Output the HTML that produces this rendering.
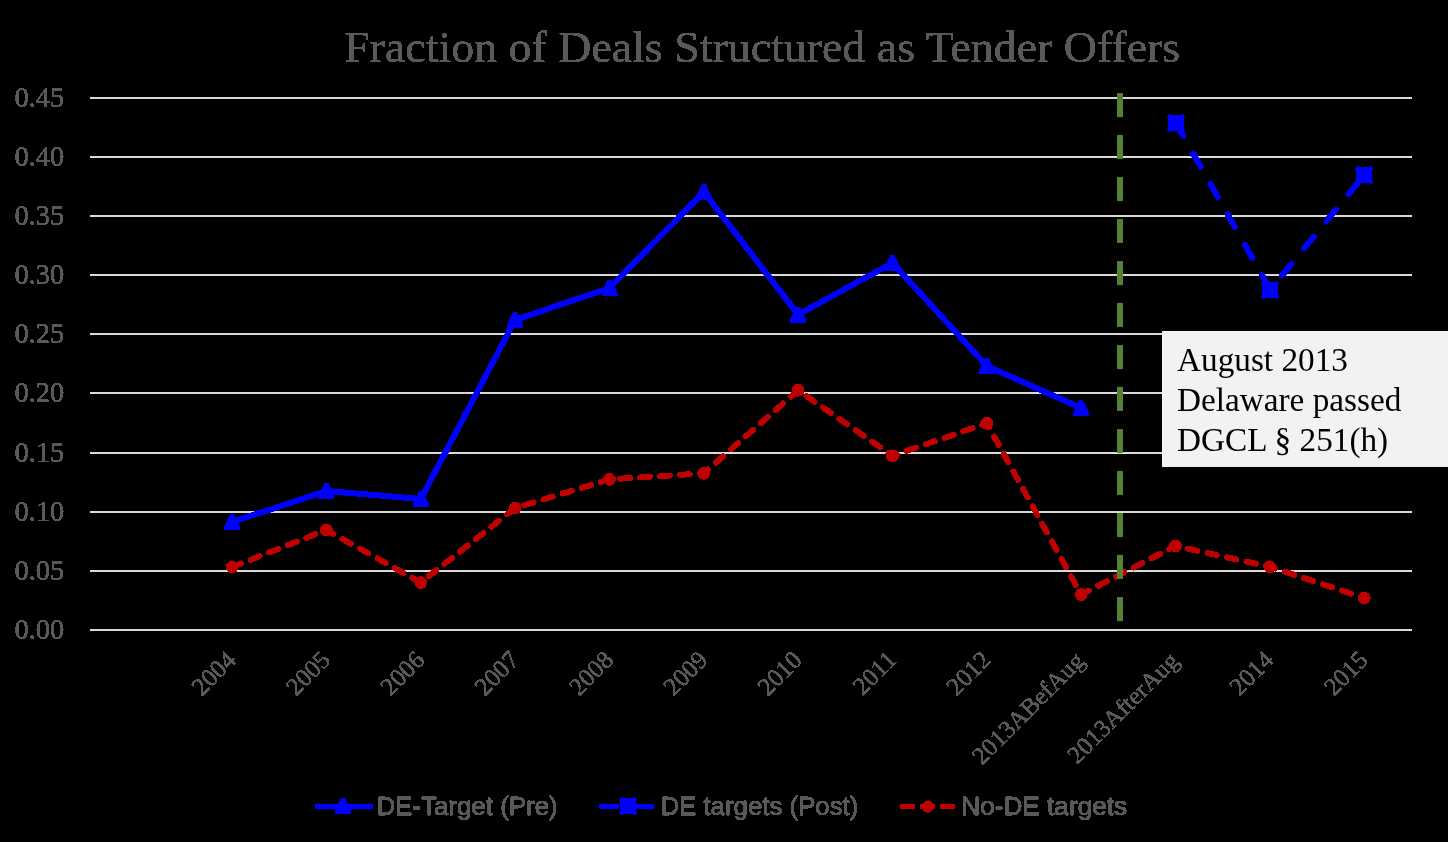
<!DOCTYPE html>
<html><head><meta charset="utf-8"><title>Fraction of Deals Structured as Tender Offers</title>
<style>html,body{margin:0;padding:0;background:#000;}body{width:1448px;height:842px;overflow:hidden;}svg{display:block;will-change:transform;}text{font-family:"Liberation Serif",serif;}.sans{font-family:"Liberation Sans",sans-serif;}</style></head><body>
<svg width="1448" height="842" viewBox="0 0 1448 842">
<defs><filter id="al" filterUnits="userSpaceOnUse" x="0" y="0" width="1448" height="842" color-interpolation-filters="sRGB"><feComponentTransfer><feFuncA type="discrete" tableValues="0 1"/></feComponentTransfer></filter></defs>
<rect width="1448" height="842" fill="#000"/>
<g shape-rendering="crispEdges" fill="#D9D9D9">
<rect x="90" y="97" width="1322" height="2"/>
<rect x="90" y="156" width="1322" height="2"/>
<rect x="90" y="215" width="1322" height="2"/>
<rect x="90" y="274" width="1322" height="2"/>
<rect x="90" y="333" width="1322" height="2"/>
<rect x="90" y="392" width="1322" height="2"/>
<rect x="90" y="452" width="1322" height="2"/>
<rect x="90" y="511" width="1322" height="2"/>
<rect x="90" y="570" width="1322" height="2"/>
<rect x="90" y="629" width="1322" height="2"/>
</g>
<g filter="url(#al)" fill="#595959" stroke="#595959" stroke-width="0.55">
<text x="344.2" y="61.5" font-size="45" stroke-width="0.5" textLength="836" lengthAdjust="spacingAndGlyphs">Fraction of Deals Structured as Tender Offers</text>
<text x="64.3" y="106.80" font-size="28.5" text-anchor="end">0.45</text>
<text x="64.3" y="165.80" font-size="28.5" text-anchor="end">0.40</text>
<text x="64.3" y="224.80" font-size="28.5" text-anchor="end">0.35</text>
<text x="64.3" y="283.80" font-size="28.5" text-anchor="end">0.30</text>
<text x="64.3" y="342.80" font-size="28.5" text-anchor="end">0.25</text>
<text x="64.3" y="401.80" font-size="28.5" text-anchor="end">0.20</text>
<text x="64.3" y="461.80" font-size="28.5" text-anchor="end">0.15</text>
<text x="64.3" y="520.80" font-size="28.5" text-anchor="end">0.10</text>
<text x="64.3" y="579.80" font-size="28.5" text-anchor="end">0.05</text>
<text x="64.3" y="638.80" font-size="28.5" text-anchor="end">0.00</text>
<text transform="translate(237.4,661.4) rotate(-45)" font-size="25.2" text-anchor="end" letter-spacing="0">2004</text>
<text transform="translate(331.7,661.4) rotate(-45)" font-size="25.2" text-anchor="end" letter-spacing="0">2005</text>
<text transform="translate(426.1,661.4) rotate(-45)" font-size="25.2" text-anchor="end" letter-spacing="0">2006</text>
<text transform="translate(520.4,661.4) rotate(-45)" font-size="25.2" text-anchor="end" letter-spacing="0">2007</text>
<text transform="translate(614.8,661.4) rotate(-45)" font-size="25.2" text-anchor="end" letter-spacing="0">2008</text>
<text transform="translate(709.1,661.4) rotate(-45)" font-size="25.2" text-anchor="end" letter-spacing="0">2009</text>
<text transform="translate(803.4,661.4) rotate(-45)" font-size="25.2" text-anchor="end" letter-spacing="0">2010</text>
<text transform="translate(897.8,661.4) rotate(-45)" font-size="25.2" text-anchor="end" letter-spacing="0">2011</text>
<text transform="translate(992.1,661.4) rotate(-45)" font-size="25.2" text-anchor="end" letter-spacing="0">2012</text>
<text transform="translate(1085.7,662.3) rotate(-45)" font-size="24.9" text-anchor="end" letter-spacing="0">2013ABefAug</text>
<text transform="translate(1180.0,662.3) rotate(-45)" font-size="24.9" text-anchor="end" letter-spacing="0">2013AfterAug</text>
<text transform="translate(1275.1,661.4) rotate(-45)" font-size="25.2" text-anchor="end" letter-spacing="0">2014</text>
<text transform="translate(1369.5,661.4) rotate(-45)" font-size="25.2" text-anchor="end" letter-spacing="0">2015</text>
<text class="sans" x="376.4" y="815" font-size="25.5" stroke-width="1.0" textLength="181.3" lengthAdjust="spacingAndGlyphs">DE-Target (Pre)</text>
<text class="sans" x="660.4" y="815" font-size="25.5" stroke-width="1.0" textLength="198" lengthAdjust="spacingAndGlyphs">DE targets (Post)</text>
<text class="sans" x="961.3" y="815" font-size="25.5" stroke-width="1.0" textLength="165.8" lengthAdjust="spacingAndGlyphs">No-DE targets</text>
</g>
<g shape-rendering="crispEdges">
<polyline fill="none" stroke="#C00000" stroke-width="6" stroke-linecap="round" stroke-linejoin="round" stroke-dasharray="9.6 10.36" points="232.1,567.0 326.4,530.0 420.8,582.6 515.1,508.0 609.5,479.4 703.8,473.3 798.1,390.3 892.5,455.8 986.8,423.2 1081.2,594.6 1175.5,546.0 1269.8,566.8 1364.2,597.9"/>
<circle cx="232.1" cy="567.0" r="6.4" fill="#C00000"/>
<circle cx="326.4" cy="530.0" r="6.4" fill="#C00000"/>
<circle cx="420.8" cy="582.6" r="6.4" fill="#C00000"/>
<circle cx="515.1" cy="508.0" r="6.4" fill="#C00000"/>
<circle cx="609.5" cy="479.4" r="6.4" fill="#C00000"/>
<circle cx="703.8" cy="473.3" r="6.4" fill="#C00000"/>
<circle cx="798.1" cy="390.3" r="6.4" fill="#C00000"/>
<circle cx="892.5" cy="455.8" r="6.4" fill="#C00000"/>
<circle cx="986.8" cy="423.2" r="6.4" fill="#C00000"/>
<circle cx="1081.2" cy="594.6" r="6.4" fill="#C00000"/>
<circle cx="1175.5" cy="546.0" r="6.4" fill="#C00000"/>
<circle cx="1269.8" cy="566.8" r="6.4" fill="#C00000"/>
<circle cx="1364.2" cy="597.9" r="6.4" fill="#C00000"/>
<polyline fill="none" stroke="#0000FF" stroke-width="6" stroke-linecap="round" stroke-linejoin="round" points="232.1,522.0 326.4,491.0 420.8,499.0 515.1,320.0 609.5,288.0 703.8,192.0 798.1,314.6 892.5,263.0 986.8,366.0 1081.2,408.0"/>
<polygon points="230.1,514.0 234.1,514.0 240.1,526.5 240.1,530.0 224.1,530.0 224.1,526.5" fill="#0000FF"/>
<polygon points="324.4,483.0 328.4,483.0 334.4,495.5 334.4,499.0 318.4,499.0 318.4,495.5" fill="#0000FF"/>
<polygon points="418.8,491.0 422.8,491.0 428.8,503.5 428.8,507.0 412.8,507.0 412.8,503.5" fill="#0000FF"/>
<polygon points="513.1,312.0 517.1,312.0 523.1,324.5 523.1,328.0 507.1,328.0 507.1,324.5" fill="#0000FF"/>
<polygon points="607.5,280.0 611.5,280.0 617.5,292.5 617.5,296.0 601.5,296.0 601.5,292.5" fill="#0000FF"/>
<polygon points="701.8,184.0 705.8,184.0 711.8,196.5 711.8,200.0 695.8,200.0 695.8,196.5" fill="#0000FF"/>
<polygon points="796.1,306.6 800.1,306.6 806.1,319.1 806.1,322.6 790.1,322.6 790.1,319.1" fill="#0000FF"/>
<polygon points="890.5,255.0 894.5,255.0 900.5,267.5 900.5,271.0 884.5,271.0 884.5,267.5" fill="#0000FF"/>
<polygon points="984.8,358.0 988.8,358.0 994.8,370.5 994.8,374.0 978.8,374.0 978.8,370.5" fill="#0000FF"/>
<polygon points="1079.2,400.0 1083.2,400.0 1089.2,412.5 1089.2,416.0 1073.2,416.0 1073.2,412.5" fill="#0000FF"/>
<polyline fill="none" stroke="#0000FF" stroke-width="6" stroke-linecap="round" stroke-linejoin="round" stroke-dasharray="15 20" points="1176.0,123.0 1270.3,289.7 1364.3,175.0"/>
<rect x="1168" y="115" width="16" height="16" fill="#0000FF"/><rect x="1167" y="115.5" width="1" height="2" fill="#0000FF"/><rect x="1168.5" y="114" width="2" height="1" fill="#0000FF"/><rect x="1184" y="115.5" width="1" height="2" fill="#0000FF"/><rect x="1181.5" y="114" width="2" height="1" fill="#0000FF"/><rect x="1167" y="128.5" width="1" height="2" fill="#0000FF"/><rect x="1168.5" y="131" width="2" height="1" fill="#0000FF"/><rect x="1184" y="128.5" width="1" height="2" fill="#0000FF"/><rect x="1181.5" y="131" width="2" height="1" fill="#0000FF"/>
<rect x="1262" y="282" width="16" height="16" fill="#0000FF"/><rect x="1261" y="282.5" width="1" height="2" fill="#0000FF"/><rect x="1262.5" y="281" width="2" height="1" fill="#0000FF"/><rect x="1278" y="282.5" width="1" height="2" fill="#0000FF"/><rect x="1275.5" y="281" width="2" height="1" fill="#0000FF"/><rect x="1261" y="295.5" width="1" height="2" fill="#0000FF"/><rect x="1262.5" y="298" width="2" height="1" fill="#0000FF"/><rect x="1278" y="295.5" width="1" height="2" fill="#0000FF"/><rect x="1275.5" y="298" width="2" height="1" fill="#0000FF"/>
<rect x="1356" y="167" width="16" height="16" fill="#0000FF"/><rect x="1355" y="167.5" width="1" height="2" fill="#0000FF"/><rect x="1356.5" y="166" width="2" height="1" fill="#0000FF"/><rect x="1372" y="167.5" width="1" height="2" fill="#0000FF"/><rect x="1369.5" y="166" width="2" height="1" fill="#0000FF"/><rect x="1355" y="180.5" width="1" height="2" fill="#0000FF"/><rect x="1356.5" y="183" width="2" height="1" fill="#0000FF"/><rect x="1372" y="180.5" width="1" height="2" fill="#0000FF"/><rect x="1369.5" y="183" width="2" height="1" fill="#0000FF"/>
</g>
<line x1="1120" y1="93" x2="1120" y2="621" stroke="#548235" stroke-width="6" stroke-dasharray="24 18" shape-rendering="crispEdges"/>
<rect x="1162" y="331" width="286" height="136" fill="#F2F2F2" shape-rendering="crispEdges"/>
<text x="1177" y="371" font-size="33.25" fill="#000">August 2013</text>
<text x="1177" y="411" font-size="33.25" fill="#000">Delaware passed</text>
<text x="1177" y="451" font-size="33.25" fill="#000">DGCL § 251(h)</text>
<g shape-rendering="crispEdges">
<rect x="315" y="804" width="58" height="5" fill="#0000FF"/>
<polygon points="341.0,798.0 345.0,798.0 351.0,810.5 351.0,814.0 335.0,814.0 335.0,810.5" fill="#0000FF"/>
<rect x="599" y="804" width="20" height="5" fill="#0000FF"/><rect x="634" y="804" width="20" height="5" fill="#0000FF"/>
<rect x="620" y="798" width="16" height="16" fill="#0000FF"/><rect x="619" y="798.5" width="1" height="2" fill="#0000FF"/><rect x="620.5" y="797" width="2" height="1" fill="#0000FF"/><rect x="636" y="798.5" width="1" height="2" fill="#0000FF"/><rect x="633.5" y="797" width="2" height="1" fill="#0000FF"/><rect x="619" y="811.5" width="1" height="2" fill="#0000FF"/><rect x="620.5" y="814" width="2" height="1" fill="#0000FF"/><rect x="636" y="811.5" width="1" height="2" fill="#0000FF"/><rect x="633.5" y="814" width="2" height="1" fill="#0000FF"/>
<line x1="900" y1="806.7" x2="915" y2="806.7" stroke="#C00000" stroke-width="5.5"/>
<line x1="920" y1="806.7" x2="935" y2="806.7" stroke="#C00000" stroke-width="5.5"/>
<line x1="940" y1="806.7" x2="955" y2="806.7" stroke="#C00000" stroke-width="5.5"/>
<circle cx="927.8" cy="806.7" r="6" fill="#C00000"/>
</g>
</svg></body></html>
